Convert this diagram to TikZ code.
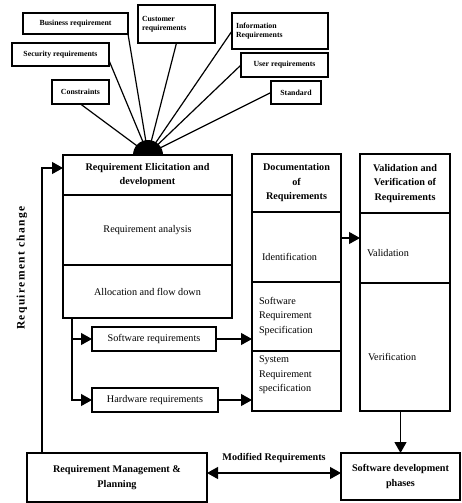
\documentclass[tikz,border=0pt]{standalone}
\usepackage{fontspec}
\setmainfont{Liberation Serif}
\usetikzlibrary{arrows.meta,positioning}
\begin{document}
\begin{tikzpicture}[x=1pt,y=-1pt,
  every node/.style={inner sep=0pt,outer sep=0pt},
  smallbox/.style={draw,line width=1.4pt,anchor=north west,font=\fontsize{7.8}{9.5}\selectfont\bfseries},
  sect/.style={draw,line width=1.2pt,anchor=north west},
  maintxt/.style={font=\fontsize{10.2}{14.5}\selectfont},
  boldtxt/.style={font=\fontsize{10.2}{14.5}\selectfont\bfseries},
  conn/.style={line width=1.2pt},
  arr/.style={line width=1.2pt,-{Triangle[length=11pt,width=12pt]}},
  darr/.style={line width=1.2pt,{Triangle[length=11pt,width=12pt]}-{Triangle[length=11pt,width=12pt]}}
]
\useasboundingbox (0,0) rectangle (461,503);

% small requirement boxes
\node[smallbox,minimum width=105pt,minimum height=21pt] (business) at (23,13) {Business requirement};
\node[smallbox,minimum width=77pt,minimum height=38pt,align=left,text width=69pt,inner xsep=4pt] (customer) at (138,5) {Customer\\requirements};
\node[smallbox,minimum width=97pt,minimum height=23pt] (security) at (12,43) {Security requirements};
\node[smallbox,minimum width=57pt,minimum height=24pt] (constraints) at (52,80) {Constraints};
\node[smallbox,minimum width=96pt,minimum height=36pt,align=left,text width=88pt,inner xsep=4pt] (information) at (232,13) {Information\\Requirements};
\node[smallbox,minimum width=87pt,minimum height=24pt] (user) at (241,53) {User requirements};
\node[smallbox,minimum width=50pt,minimum height=23pt] (standard) at (271,81) {Standard};

\coordinate (hub) at (148,154);
\draw[conn] (constraints.south) -- (hub);
\draw[conn] (security.-7) -- (hub);
\draw[conn] (business.south east) -- (hub);
\draw[conn] (customer.south) -- (hub);
\draw[conn] (information.west) -- (hub);
\draw[conn] (user.west) -- (hub);
\draw[conn] (standard.west) -- (hub);
\fill (133,155) arc[start angle=180,end angle=360,radius=15];

% main elicitation box
\node[sect,minimum width=169pt,minimum height=40pt,boldtxt,align=center] (elic) at (63,155) {Requirement Elicitation and\\development};
\node[sect,minimum width=169pt,minimum height=70pt,maintxt] (analysis) at (63,195) {Requirement analysis};
\node[sect,minimum width=169pt,minimum height=53pt,maintxt] (alloc) at (63,265) {Allocation and flow down};

% documentation column
\node[sect,minimum width=89pt,minimum height=58pt,boldtxt,align=center] (doctitle) at (252,154) {Documentation\\of\\Requirements};
\node[sect,minimum width=89pt,minimum height=70pt] (ident) at (252,212) {};
\node[maintxt,anchor=west] (identT) at (262,257) {Identification};
\node[sect,minimum width=89pt,minimum height=69pt] (srs) at (252,282) {};
\node[maintxt,anchor=north west,align=left] (srsT) at (259,297) {Software\\Requirement\\Specification};
\node[sect,minimum width=89pt,minimum height=60pt] (sysrs) at (252,351) {};
\node[maintxt,anchor=north west,align=left] (sysrsT) at (259,356) {System\\Requirement\\specification};

% validation column
\node[sect,minimum width=90pt,minimum height=59pt,boldtxt,align=center] (valtitle) at (360,154) {Validation and\\Verification of\\Requirements};
\node[sect,minimum width=90pt,minimum height=70pt] (valid) at (360,213) {};
\node[maintxt,anchor=west] (validT) at (367,253) {Validation};
\node[sect,minimum width=90pt,minimum height=128pt] (verif) at (360,283) {};
\node[maintxt,anchor=west] (verifT) at (368,357) {Verification};

% sw / hw requirement boxes
\node[sect,line width=1.4pt,minimum width=124pt,minimum height=24pt,maintxt] (sw) at (92,327) {Software requirements};
\node[sect,line width=1.4pt,minimum width=126pt,minimum height=24pt,maintxt] (hw) at (92,388) {Hardware requirements};

% bottom boxes
\node[sect,line width=1.4pt,minimum width=180pt,minimum height=49pt,boldtxt,align=center] (reqmgmt) at (27,453) {Requirement Management \&\\Planning};
\node[sect,line width=1.4pt,minimum width=119pt,minimum height=47pt,boldtxt,align=center] (swdev) at (341,453) {Software development\\phases};

% requirement change loop
\coordinate (rc) at (42,168);
\draw[arr] (reqmgmt.north -| rc) -- (rc) -- (rc -| elic.west);
\node[font=\fontsize{11.5}{14}\selectfont\bfseries,rotate=90] (rclabel) at (22,268) {\addfontfeature{LetterSpace=12}Requirement change};

% branch to sw/hw
\coordinate (br) at (72,400);
\draw[arr] (alloc.south -| br) |- (sw.west);
\draw[arr] (alloc.south -| br) -- (br) -- (hw.west);

\draw[arr] (sw.east) -- (sw.east -| srs.west);
\draw[arr] (hw.east) -- (hw.east -| sysrs.west);
\draw[arr] ([yshift=9pt]ident.east) -- ([yshift=9pt]ident.east -| valid.west);
\draw[arr] (swdev.north |- verif.south) -- (swdev.north);

\draw[darr] ([yshift=4.5pt]reqmgmt.east) -- ([yshift=4.5pt]reqmgmt.east -| swdev.west) node[boldtxt,midway,above=10pt] (modlabel) {Modified Requirements};
\end{tikzpicture}
\end{document}
